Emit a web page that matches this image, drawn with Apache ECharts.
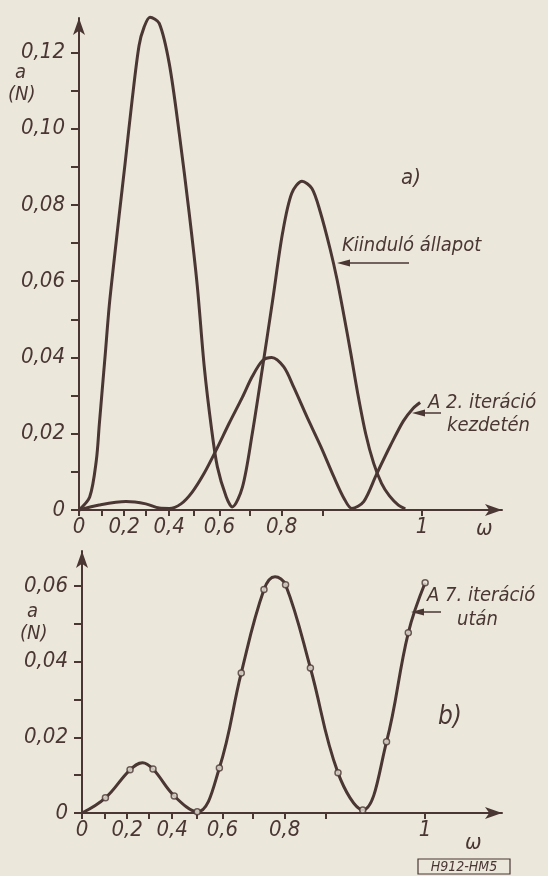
<!DOCTYPE html>
<html>
<head>
<meta charset="utf-8">
<script src="https://cdn.jsdelivr.net/npm/echarts@6/dist/echarts.min.js"></script>
<style>
	html,body{margin:0;padding:0;background:#ebe7db;}
	#chart{width:548px;height:876px;}
</style>
</head>
<body>
<div id="chart"></div>
<script>
	// the printed omega scale is not linear: it stretches towards 1
	var omegaKnots = [0, 0.1, 0.2, 0.3, 0.4, 0.5, 0.6, 0.7, 0.8, 0.9, 1.0];
	var scaleKnots = [0, 0.099, 0.201, 0.298, 0.401, 0.512, 0.624, 0.757, 0.901, 1.085, 1.525];

	var xTickValues = [0, 0.1, 0.2, 0.3, 0.4, 0.5, 0.6, 0.7, 0.8, 0.9, 1.0];
	var xLabelValues = [0, 0.2, 0.4, 0.6, 0.8, 1.0];
	var xLabelTexts = ['0', '0,2', '0,4', '0,6', '0,8', '1'];

	var yTopTicks = [0, 0.01, 0.02, 0.03, 0.04, 0.05, 0.06, 0.07, 0.08, 0.09, 0.10, 0.11, 0.12];
	var yTopLabels = [0, 0.02, 0.04, 0.06, 0.08, 0.10, 0.12];
	var yBottomTicks = [0, 0.01, 0.02, 0.03, 0.04, 0.05, 0.06];
	var yBottomLabels = [0, 0.02, 0.04, 0.06];

	// a) Kiinduló állapot
	var initOmega = [0, 0.048, 0.078, 0.091, 0.104, 0.117, 0.135, 0.157, 0.178, 0.204, 0.236, 0.268, 0.291, 0.317, 0.357, 0.4, 0.44, 0.48, 0.512, 0.54, 0.568, 0.592, 0.623, 0.643, 0.677, 0.709, 0.741, 0.772, 0.802, 0.824, 0.849, 0.873, 0.893, 0.907, 0.914, 0.921, 0.928, 0.935, 0.943, 0.951, 0.959, 0.967, 0.976, 0.983];
	var initA = [0, 0.0034, 0.0131, 0.0223, 0.0314, 0.0406, 0.0537, 0.066, 0.0773, 0.0909, 0.1074, 0.1218, 0.1266, 0.1292, 0.1276, 0.1171, 0.0988, 0.0778, 0.0589, 0.0375, 0.0217, 0.0113, 0.0034, 0.0008, 0.006, 0.020, 0.0375, 0.055, 0.0726, 0.083, 0.0862, 0.0843, 0.0782, 0.0685, 0.0605, 0.051, 0.041, 0.0305, 0.020, 0.0123, 0.007, 0.0037, 0.0013, 0.0003];

	// a) A 2. iteráció kezdetén
	var secondOmega = [0, 0.091, 0.208, 0.299, 0.357, 0.4, 0.447, 0.492, 0.54, 0.587, 0.633, 0.677, 0.709, 0.741, 0.769, 0.805, 0.829, 0.861, 0.895, 0.911, 0.921, 0.929, 0.941, 0.954, 0.968, 0.981, 0.991, 0.998];
	var secondA = [0, 0.0013, 0.0022, 0.0016, 0.0005, 0.0004, 0.0016, 0.0047, 0.0097, 0.0157, 0.0228, 0.0296, 0.035, 0.0392, 0.040, 0.0375, 0.0322, 0.0244, 0.0165, 0.0086, 0.0031, 0.0004, 0.0022, 0.0094, 0.0169, 0.0233, 0.0267, 0.0282];

	// b) A 7. iteráció után: marked points and the extra curve points
	var seventhOmega = [0.105, 0.213, 0.317, 0.408, 0.5, 0.588, 0.663, 0.736, 0.802, 0.862, 0.912, 0.937, 0.961, 0.983, 1.0];
	var seventhA = [0.004, 0.0114, 0.0116, 0.0045, 0.0003, 0.0119, 0.037, 0.059, 0.0603, 0.0383, 0.0106, 0.0008, 0.0188, 0.0476, 0.0608];
	var seventhCurveOmega = [0, 0.27, 0.77];
	var seventhCurveA = [0, 0.0133, 0.0624];

	var ink = '#4a3633';
	var paper = '#ebe7db';
	var fontfam = "'Liberation Sans Narrow','DejaVu Sans Condensed','Liberation Sans',sans-serif";

	function warp(w){
		for(var i=1;i<omegaKnots.length;i++){
			if(w <= omegaKnots[i]){
				var t = (w - omegaKnots[i-1]) / (omegaKnots[i] - omegaKnots[i-1]);
				return scaleKnots[i-1] + t * (scaleKnots[i] - scaleKnots[i-1]);
			}
		}
		return scaleKnots[scaleKnots.length-1];
	}
	function pairs(xs, ys){
		var out = [];
		for(var i=0;i<xs.length;i++){ out.push([warp(xs[i]), ys[i]]); }
		return out;
	}
	function xLabel(v){
		for(var i=0;i<xLabelValues.length;i++){
			if(Math.abs(warp(xLabelValues[i]) - v) < 1e-3) return xLabelTexts[i];
		}
		return '';
	}
	function yLabel(v){
		if(v === 0) return '0';
		return v.toFixed(2).replace('.', ',');
	}

	var seventhLine = pairs(seventhOmega.concat(seventhCurveOmega), seventhA.concat(seventhCurveA));
	seventhLine.sort(function(a, b){ return a[0] - b[0]; });

	function makeX(idx, max){
		return {
			type:'value', gridIndex:idx, min:0, max:max,
			axisLine:{show:true, onZero:false, symbol:['none','arrow'], symbolSize:[9,17], lineStyle:{color:ink, width:2}},
			axisTick:{show:true, customValues:xTickValues.map(warp), length:6, lineStyle:{color:ink, width:2}},
			axisLabel:{customValues:xLabelValues.map(warp), formatter:xLabel, margin:6, color:ink,
				fontStyle:'italic', fontSize:22, fontFamily:fontfam},
			splitLine:{show:false}
		};
	}
	function makeY(idx, max, ticks, labels){
		return {
			type:'value', gridIndex:idx, min:0, max:max,
			axisLine:{show:true, onZero:false, symbol:['none','arrow'], symbolSize:[9,17], lineStyle:{color:ink, width:2}},
			axisTick:{show:true, customValues:ticks, length:8, lineStyle:{color:ink, width:2}},
			axisLabel:{customValues:labels, formatter:yLabel, margin:14, color:ink,
				fontStyle:'italic', fontSize:22, fontFamily:fontfam},
			splitLine:{show:false}
		};
	}
	function txt(x, y, s, size){
		return {type:'text', x:x, y:y, style:{text:s, fill:ink, font:'italic ' + size + 'px ' + fontfam,
			textAlign:'left', textVerticalAlign:'middle'}};
	}
	function leftArrow(x1, x2, y){
		return [
			{type:'line', shape:{x1:x1 + 10, y1:y, x2:x2, y2:y}, style:{stroke:ink, lineWidth:1.5}},
			{type:'polygon', shape:{points:[[x1, y], [x1 + 13, y - 3.5], [x1 + 13, y + 3.5]]}, style:{fill:ink}}
		];
	}

	var graphics = [
		txt(15, 73, 'a', 20), txt(8, 95, '(N)', 20),
		txt(27, 612, 'a', 20), txt(20, 634, '(N)', 20),
		txt(401, 178, 'a)', 22),
		txt(438, 717, 'b)', 26),
		txt(476, 529, 'ω', 22),
		txt(465, 843, 'ω', 22),
		txt(342, 246, 'Kiinduló állapot', 20),
		txt(428, 403, 'A 2. iteráció', 20),
		txt(447, 426, 'kezdetén', 20),
		txt(427, 596, 'A 7. iteráció', 20),
		txt(457, 620, 'után', 20),
		{type:'rect', shape:{x:418, y:859, width:92, height:15}, style:{fill:'none', stroke:ink, lineWidth:1.2}},
		{type:'text', x:464, y:867, style:{text:'H912-HM5', fill:ink, font:'italic 14px ' + fontfam,
			textAlign:'center', textVerticalAlign:'middle'}}
	].concat(leftArrow(337, 409, 263), leftArrow(412, 441, 413), leftArrow(411, 441, 612));

	var option = {
		backgroundColor: paper,
		animation: false,
		grid: [
			{left:79, top:18, width:423, height:492},
			{left:82, top:551, width:420, height:262}
		],
		xAxis: [makeX(0, 423/225), makeX(1, 420/225)],
		yAxis: [makeY(0, 0.129, yTopTicks, yTopLabels), makeY(1, 0.0692, yBottomTicks, yBottomLabels)],
		series: [
			{name:'Kiinduló állapot', type:'line', xAxisIndex:0, yAxisIndex:0, data:pairs(initOmega, initA),
				smooth:0.3, showSymbol:false, clip:false, lineStyle:{color:ink, width:3}},
			{name:'A 2. iteráció kezdetén', type:'line', xAxisIndex:0, yAxisIndex:0, data:pairs(secondOmega, secondA),
				smooth:0.3, showSymbol:false, clip:false, lineStyle:{color:ink, width:3}},
			{name:'A 7. iteráció után', type:'line', xAxisIndex:1, yAxisIndex:1, data:seventhLine,
				smooth:0.4, showSymbol:false, clip:false, lineStyle:{color:ink, width:3}},
			{name:'pontok', type:'scatter', xAxisIndex:1, yAxisIndex:1, data:pairs(seventhOmega, seventhA),
				symbol:'circle', symbolSize:6, itemStyle:{color:paper, borderColor:ink, borderWidth:1.5}, z:5}
		],
		graphic: graphics
	};

	var mychart = echarts.init(document.getElementById('chart'));
	mychart.setOption(option);
</script>
</body>
</html>
